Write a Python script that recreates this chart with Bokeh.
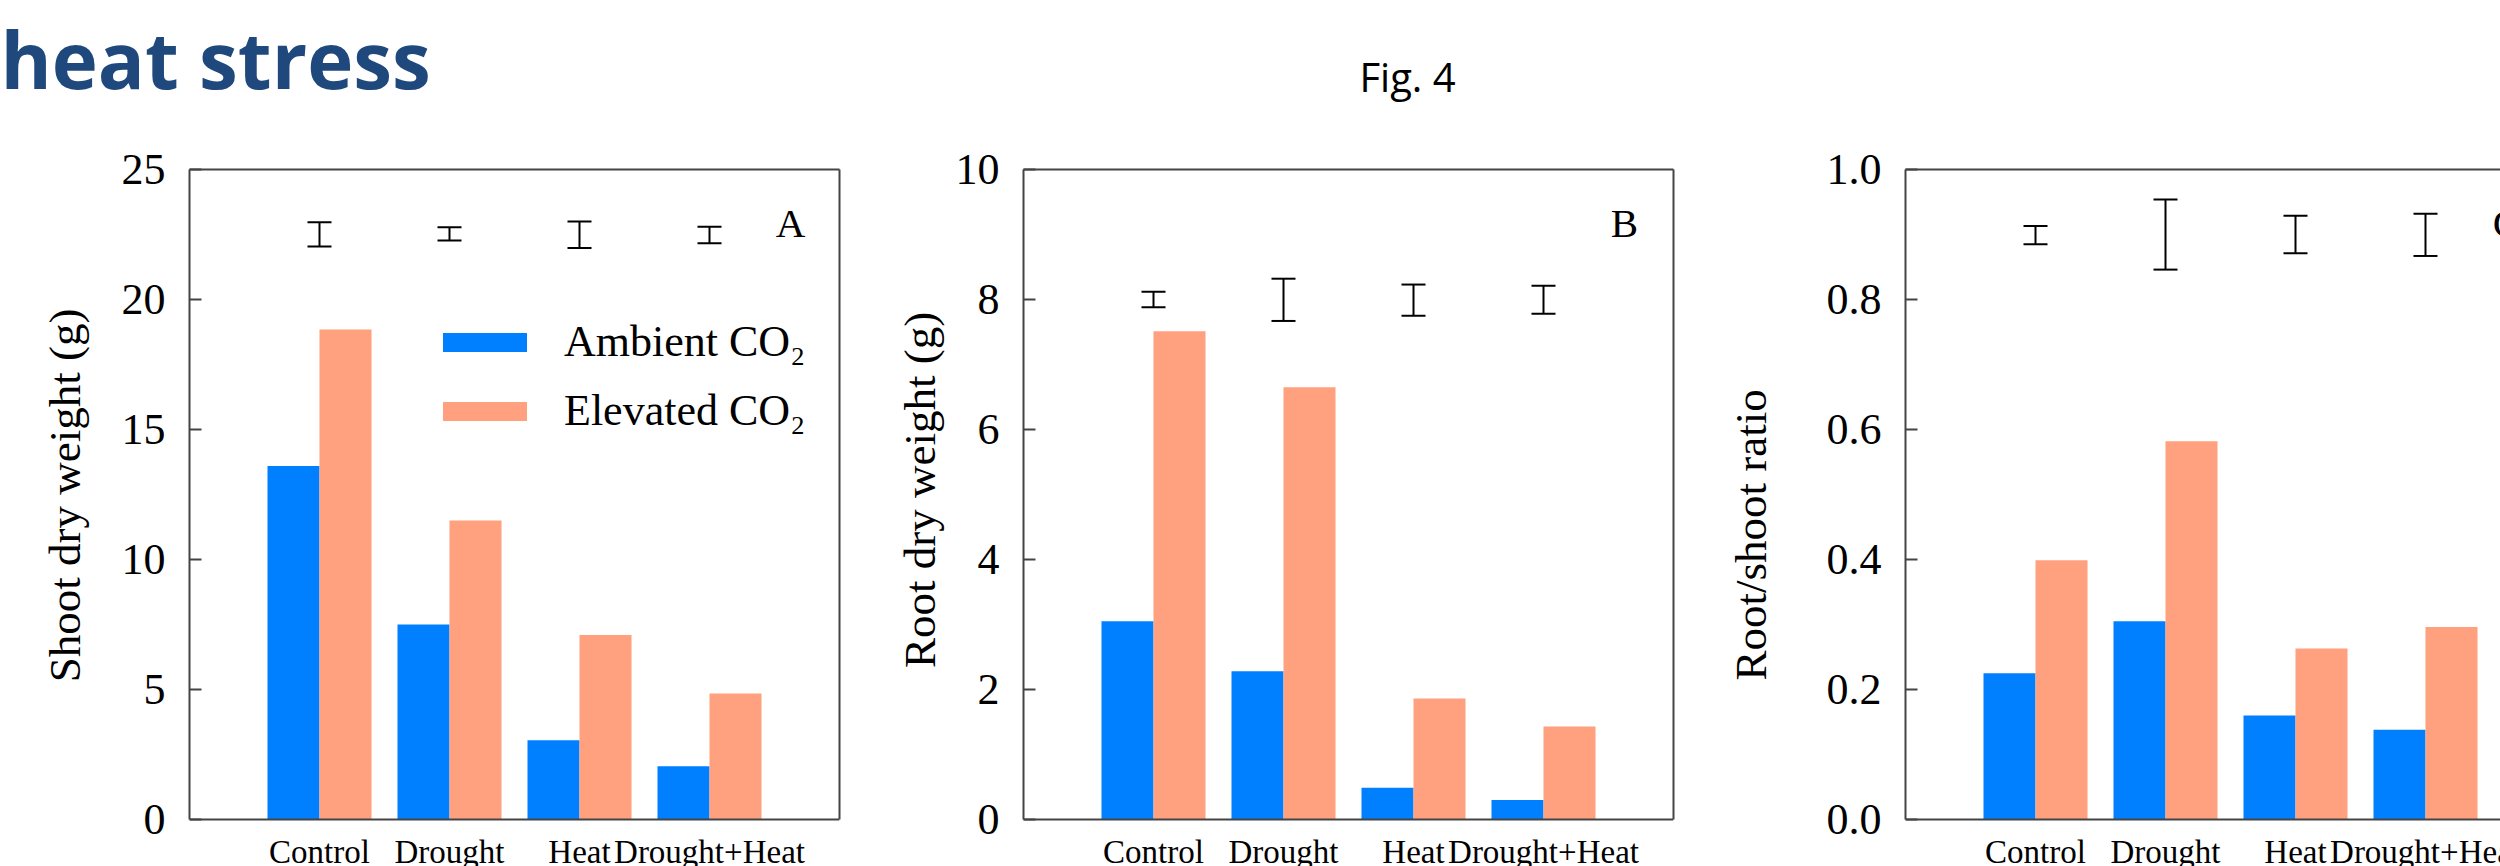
from bokeh.plotting import figure
from bokeh.models import (ColumnDataSource, Range1d, FixedTicker, Whisker, TeeHead,
                          Legend, LegendItem, Label, LinearAxis, NumeralTickFormatter, Span)
from bokeh.layouts import column, row
from bokeh.embed import file_html
from bokeh.resources import INLINE
from bokeh.core.properties import value
from bokeh.transform import dodge

# ---------------- data ----------------
categories = ["Control", "Drought", "Heat", "Drought+Heat"]
series_names = ["Ambient CO\u2082", "Elevated CO\u2082"]

shoot_ambient = [13.6, 7.5, 3.05, 2.05]
shoot_elevated = [18.85, 11.5, 7.1, 4.85]
shoot_err_low = [22.04, 22.27, 21.98, 22.16]
shoot_err_high = [22.97, 22.78, 23.0, 22.8]

root_ambient = [3.05, 2.28, 0.49, 0.30]
root_elevated = [7.51, 6.65, 1.86, 1.43]
root_err_low = [7.88, 7.67, 7.75, 7.78]
root_err_high = [8.12, 8.32, 8.23, 8.21]

ratio_ambient = [0.225, 0.305, 0.160, 0.138]
ratio_elevated = [0.399, 0.582, 0.263, 0.296]
ratio_err_low = [0.885, 0.846, 0.871, 0.867]
ratio_err_high = [0.913, 0.954, 0.929, 0.932]

shoot_ticks = [0, 5, 10, 15, 20, 25]
root_ticks = [0, 2, 4, 6, 8, 10]
ratio_ticks = [0.0, 0.2, 0.4, 0.6, 0.8, 1.0]

panel_letters = ["A", "B", "C"]
y_labels = ["Shoot dry weight (g)", "Root dry weight (g)", "Root/shoot ratio"]

# ---------------- styles ----------------
BLUE = "#0080FF"
SALMON = "#FFA07F"
FRAME = "#444444"
SERIF = "Liberation Serif"
ROW_H = 748
FRAME_H = 650          # height of the boxed area
TOP_B = 51
BELOW = ROW_H - TOP_B - FRAME_H  # room under the box for the group names
NBSP = "\u00a0"

positions = [i + 1 for i in range(len(categories))]


def bare_axis():
    return LinearAxis(ticker=FixedTicker(ticks=[]), major_label_text_font_size="0px",
                      major_tick_in=0, major_tick_out=0, minor_tick_in=0,
                      minor_tick_out=0, major_label_standoff=0,
                      axis_line_color=FRAME, axis_line_width=2)


def make_panel(amb, ele, lo, hi, ticks, ylabel, letter, width, left, right,
               label_standoff, shift_pad, xmax=5.0, legend=False, cut=False, fmt=None):
    span = ticks[-1] - ticks[0]
    y_start = ticks[0] - span * BELOW / FRAME_H
    p = figure(width=width, height=ROW_H,
               x_range=Range1d(0, xmax), y_range=Range1d(y_start, ticks[-1]),
               output_backend="svg", toolbar_location=None, x_axis_location=None,
               min_border_left=left, min_border_right=right,
               min_border_top=TOP_B, min_border_bottom=0)
    p.grid.visible = False
    p.background_fill_color = "white"
    p.border_fill_color = "white"
    p.outline_line_color = None

    src = ColumnDataSource(dict(x=positions, amb=amb, ele=ele, lo=lo, hi=hi))
    r1 = p.vbar(x=dodge("x", -0.2), top="amb", width=0.4, bottom=0, source=src,
                fill_color=BLUE, line_color=None)
    r2 = p.vbar(x=dodge("x", 0.2), top="ele", width=0.4, bottom=0, source=src,
                fill_color=SALMON, line_color=None)

    w = Whisker(source=src, base="x", lower="lo", upper="hi", dimension="height",
                line_color="black", line_width=2,
                upper_head=TeeHead(size=24, line_width=2, line_color="black"),
                lower_head=TeeHead(size=24, line_width=2, line_color="black"))
    p.add_layout(w)

    # y axis
    ya = p.yaxis[0]
    ya.ticker = FixedTicker(ticks=ticks)
    if fmt is not None:
        ya.formatter = fmt
    ya.bounds = (ticks[0], ticks[-1])
    ya.major_tick_in = 12
    ya.major_tick_out = 0
    ya.minor_tick_in = 0
    ya.minor_tick_out = 0
    ya.major_tick_line_color = FRAME
    ya.major_tick_line_width = 2
    ya.major_label_text_font = SERIF
    ya.major_label_text_font_size = "44px"
    ya.major_label_text_color = "black"
    ya.major_label_standoff = 24
    ya.axis_line_color = FRAME
    ya.axis_line_width = 2
    # non-breaking spaces move the centred title along the axis, as in the original
    if shift_pad >= 0:
        ya.axis_label = NBSP * shift_pad + ylabel
    else:
        ya.axis_label = ylabel + NBSP * (-shift_pad)
    ya.axis_label_text_font = SERIF
    ya.axis_label_text_font_size = "45px"
    ya.axis_label_text_font_style = "normal"
    ya.axis_label_text_color = "black"
    ya.axis_label_standoff = label_standoff

    # box: top line, bottom line at zero, right line (not for the cut-off panel)
    p.add_layout(bare_axis(), "above")
    p.add_layout(Span(location=ticks[0], dimension="width", line_color=FRAME,
                      line_width=2))
    if not cut:
        ra = bare_axis()
        ra.bounds = (ticks[0], ticks[-1])
        p.add_layout(ra, "right")

    # group names under the box
    cat_src = ColumnDataSource(dict(x=positions, y=[ticks[0]] * len(positions),
                                    name=categories))
    p.text(x="x", y="y", text="name", source=cat_src, y_offset=32,
           text_font=value(SERIF), text_font_size="33px", text_color="black",
           text_align="center", text_baseline="alphabetic")

    p.add_layout(Label(x=4.623, y=ticks[0] + span * 0.918, text=letter,
                       text_font=SERIF, text_font_size="41px", text_color="black",
                       text_align="center", text_baseline="middle"))

    if legend:
        lg = Legend(items=[LegendItem(label=series_names[0], renderers=[r1]),
                           LegendItem(label=series_names[1], renderers=[r2])],
                    location=(243, 430), glyph_width=105, glyph_height=24,
                    label_standoff=27, spacing=18, padding=0, margin=0,
                    border_line_color=None, background_fill_alpha=0,
                    label_text_font=SERIF, label_text_font_size="44px",
                    label_text_color="black")
        p.add_layout(lg)
    return p


pA = make_panel(shoot_ambient, shoot_elevated, shoot_err_low, shoot_err_high,
                shoot_ticks, y_labels[0], panel_letters[0], width=870, left=189, right=31,
                label_standoff=29, shift_pad=4, legend=True)
pB = make_panel(root_ambient, root_elevated, root_err_low, root_err_high,
                root_ticks, y_labels[1], panel_letters[1], width=830, left=153, right=27,
                label_standoff=8, shift_pad=5)
pC = make_panel(ratio_ambient, ratio_elevated, ratio_err_low, ratio_err_high,
                ratio_ticks, y_labels[2], panel_letters[2], width=800, left=205, right=0,
                label_standoff=48, shift_pad=-3, xmax=5.0 * 595 / 650, cut=True,
                fmt=NumeralTickFormatter(format="0.0"))

# ---------------- header strip ----------------
top = figure(width=2500, height=118, x_range=Range1d(0, 2500), y_range=Range1d(118, 0),
             output_backend="svg", toolbar_location=None, min_border=0,
             x_axis_location=None, y_axis_location=None)
top.grid.visible = False
top.outline_line_color = None
top.text(x=[0], y=[58], text=["heat stress"], text_font=value("Open Sans"),
         text_font_style="bold", text_font_size="78px", text_color="#1F497D",
         text_baseline="alphabetic", text_align="left")
top.text(x=[1407], y=[76], text=["Fig. 4"], text_font=value("Open Sans"),
         text_font_size="40px", text_color="black",
         text_baseline="alphabetic", text_align="center")

layout = column(top, row(pA, pB, pC))

open("out.html", "w").write(file_html(layout, INLINE))
